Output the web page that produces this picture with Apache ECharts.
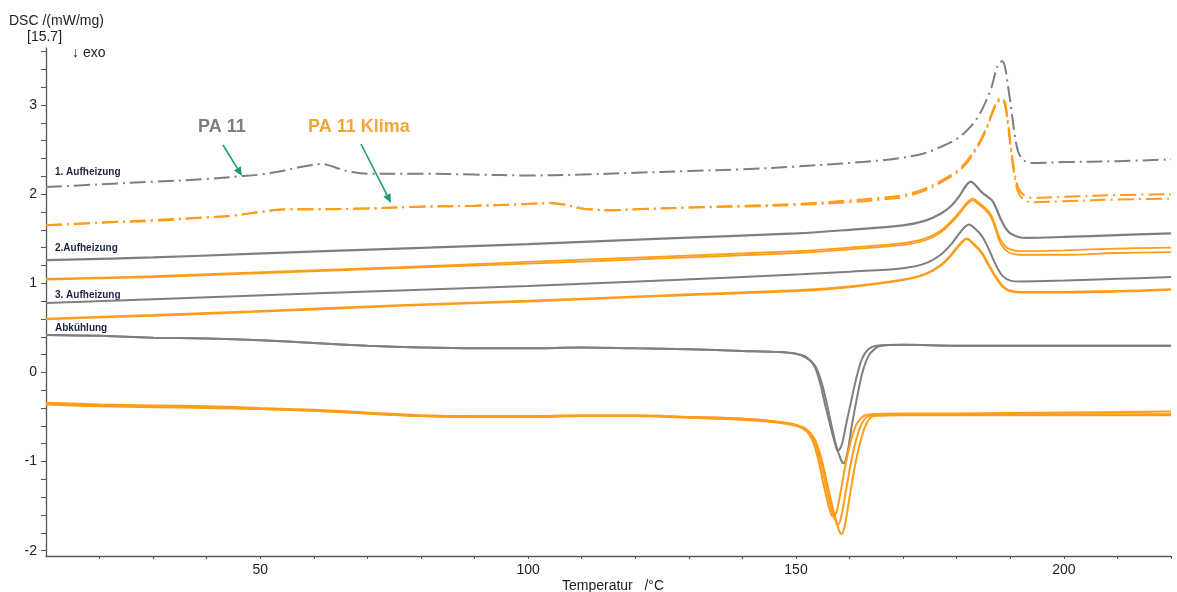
<!DOCTYPE html>
<html><head><meta charset="utf-8">
<script src="https://cdn.jsdelivr.net/npm/echarts@6/dist/echarts.min.js"></script>
<style>html,body{margin:0;padding:0;background:#fff}#c{width:1177px;height:592px}</style>
</head><body><div id="c"></div>
<script>
// ---- data (temperature °C, DSC mW/mg) ----
const xLabels = [50, 100, 150, 200];
const xTicks = [20,30,40,50,60,70,80,90,100,110,120,130,140,150,160,170,180,190,200,210,220];
const yLabels = [-2, -1, 0, 1, 2, 3];
const yTicks = [-2,-1.8,-1.6,-1.4,-1.2,-1,-0.8,-0.6,-0.4,-0.2,0,0.2,0.4,0.6,0.8,1,1.2,1.4,1.6,1.8,2,2.2,2.4,2.6,2.8,3,3.2,3.4,3.6];

// 1. Aufheizung
const pa11_heat1 = [[10,2.08],[20,2.11],[30,2.14],[40,2.17],[46,2.2],[50,2.22],[54,2.26],[57,2.3],[60,2.33],[61.5,2.34],[63,2.32],[65,2.28],[67,2.25],[70,2.23],[80,2.23],[90,2.22],[100,2.21],[110,2.22],[120,2.24],[130,2.26],[140,2.28],[150,2.31],[160,2.35],[166,2.38],[170,2.41],[174,2.46],[177,2.53],[180,2.62],[182,2.72],[184,2.87],[185.5,3.05],[186.5,3.2],[187.3,3.38],[188,3.48],[188.5,3.49],[189,3.43],[189.6,3.2],[190.2,2.95],[190.8,2.68],[191.5,2.47],[192.5,2.38],[194,2.35],[200,2.36],[210,2.37],[220,2.39]];
const klima_heat1a = [[10,1.65],[20,1.68],[30,1.71],[40,1.74],[45,1.76],[50,1.8],[55,1.83],[60,1.83],[70,1.84],[80,1.86],[90,1.87],[100,1.89],[104,1.9],[107,1.88],[110,1.84],[115,1.82],[120,1.83],[130,1.85],[140,1.87],[150,1.89],[160,1.93],[166,1.96],[170,1.99],[174,2.06],[177,2.15],[180,2.26],[182,2.38],[184,2.56],[185.5,2.74],[186.5,2.9],[187.5,3.04],[188.3,3.08],[189,3.03],[189.6,2.8],[190.2,2.5],[190.8,2.25],[191.5,2.07],[192.5,1.99],[194,1.96],[200,1.97],[210,1.99],[220,2.0]];
const klima_heat1b = [[10,1.65],[20,1.68],[30,1.7],[40,1.74],[45,1.76],[50,1.8],[55,1.83],[60,1.83],[70,1.84],[80,1.86],[90,1.87],[100,1.89],[104,1.9],[107,1.88],[110,1.84],[115,1.82],[120,1.83],[130,1.85],[140,1.86],[150,1.88],[160,1.91],[166,1.94],[170,1.97],[174,2.04],[177,2.13],[180,2.24],[182,2.36],[184,2.54],[185.5,2.72],[186.5,2.88],[187.5,3.02],[188.3,3.06],[189,3.0],[189.6,2.76],[190.2,2.45],[190.8,2.2],[191.5,2.02],[192.5,1.94],[194,1.91],[200,1.92],[210,1.94],[220,1.95]];
// 2. Aufheizung
const pa11_heat2 = [[10,1.26],[30,1.29],[48,1.33],[76,1.39],[100,1.44],[125,1.5],[150,1.56],[160,1.6],[170,1.65],[174,1.7],[177,1.78],[179,1.87],[180.5,1.98],[181.8,2.1],[182.6,2.14],[183.5,2.1],[184.7,2.02],[185.8,1.97],[186.6,1.93],[187.3,1.85],[188,1.75],[189,1.63],[190,1.56],[191.5,1.52],[193,1.51],[200,1.52],[210,1.54],[220,1.56]];
const klima_heat2a = [[10,1.05],[30,1.08],[48,1.12],[76,1.18],[100,1.24],[125,1.3],[150,1.36],[160,1.4],[170,1.45],[174,1.5],[177,1.59],[179,1.7],[180.5,1.8],[182,1.91],[183,1.95],[184,1.91],[185.4,1.84],[186.4,1.77],[187.3,1.63],[188,1.51],[189,1.42],[190,1.38],[191.8,1.36],[200,1.37],[210,1.39],[220,1.4]];
const klima_heat2b = [[10,1.04],[30,1.07],[48,1.11],[76,1.17],[100,1.22],[125,1.28],[150,1.34],[160,1.38],[170,1.43],[174,1.48],[177,1.57],[179,1.68],[180.5,1.78],[182,1.89],[183,1.93],[184,1.89],[185.4,1.82],[186.4,1.74],[187.3,1.6],[188,1.47],[189,1.38],[190,1.34],[191.8,1.32],[200,1.32],[210,1.34],[220,1.35]];
// 3. Aufheizung
const pa11_heat3 = [[10,0.78],[30,0.82],[48,0.86],[76,0.92],[100,0.97],[125,1.03],[151,1.1],[160,1.13],[170,1.17],[174,1.22],[177,1.32],[179,1.44],[180.5,1.56],[182.3,1.66],[183.3,1.62],[184.7,1.53],[185.7,1.42],[186.6,1.3],[187.6,1.17],[188.6,1.08],[190,1.03],[192,1.02],[200,1.03],[210,1.05],[220,1.07]];
const klima_heat3 = [[10,0.6],[30,0.64],[48,0.68],[76,0.75],[100,0.8],[125,0.86],[151,0.92],[160,0.96],[170,1.04],[174,1.1],[177,1.2],[179,1.32],[180.5,1.43],[181.9,1.5],[183,1.45],[184.7,1.34],[186,1.2],[187.3,1.07],[188.5,0.97],[189.7,0.92],[192,0.9],[200,0.9],[210,0.91],[220,0.93]];
// Abkühlung
const pa11_cool1 = [[10,0.42],[20,0.41],[30,0.39],[40,0.38],[50,0.36],[60,0.33],[70,0.3],[80,0.28],[90,0.27],[100,0.27],[110,0.28],[120,0.27],[130,0.26],[140,0.24],[146,0.23],[150,0.21],[152,0.17],[153.5,0.06],[154.5,-0.12],[155.5,-0.38],[156.5,-0.62],[157.3,-0.8],[157.8,-0.88],[158.5,-0.82],[159.3,-0.6],[160.2,-0.35],[161.2,-0.08],[162.3,0.15],[163.5,0.26],[165,0.3],[170,0.31],[180,0.3],[200,0.3],[220,0.3]];
const pa11_cool2 = [[10,0.42],[20,0.41],[30,0.39],[40,0.38],[50,0.36],[60,0.33],[70,0.3],[80,0.28],[90,0.27],[100,0.27],[110,0.28],[120,0.27],[130,0.26],[140,0.24],[146,0.23],[150,0.21],[152,0.16],[153.5,0.08],[154.5,-0.06],[155.5,-0.28],[156.5,-0.56],[157.5,-0.82],[158.4,-0.98],[158.9,-1.02],[159.6,-0.9],[160.4,-0.6],[161.4,-0.28],[162.4,0.0],[163.5,0.18],[164.8,0.27],[166,0.3],[170,0.31],[180,0.3],[200,0.3],[220,0.3]];
const klima_cool1 = [[10,-0.34],[20,-0.36],[30,-0.37],[40,-0.38],[50,-0.4],[60,-0.42],[70,-0.45],[80,-0.48],[90,-0.49],[100,-0.49],[110,-0.48],[120,-0.48],[130,-0.5],[140,-0.52],[146,-0.55],[150,-0.59],[152,-0.66],[153.3,-0.8],[154.3,-1.02],[155.3,-1.3],[156.2,-1.52],[156.9,-1.62],[157.5,-1.58],[158.3,-1.35],[159.2,-1.05],[160.2,-0.78],[161.3,-0.58],[162.6,-0.49],[164,-0.47],[170,-0.46],[180,-0.46],[200,-0.45],[220,-0.44]];
const klima_cool2 = [[10,-0.36],[20,-0.38],[30,-0.39],[40,-0.4],[50,-0.41],[60,-0.43],[70,-0.46],[80,-0.49],[90,-0.5],[100,-0.5],[110,-0.49],[120,-0.49],[130,-0.51],[140,-0.53],[146,-0.56],[150,-0.6],[152,-0.66],[153.5,-0.78],[154.6,-1.0],[155.7,-1.3],[156.7,-1.55],[157.5,-1.68],[157.9,-1.7],[158.5,-1.6],[159.4,-1.3],[160.3,-1.0],[161.3,-0.74],[162.5,-0.55],[164,-0.48],[170,-0.47],[200,-0.47],[220,-0.47]];
const klima_cool3 = [[10,-0.35],[20,-0.37],[30,-0.38],[40,-0.39],[50,-0.41],[60,-0.43],[70,-0.46],[80,-0.49],[90,-0.5],[100,-0.5],[110,-0.49],[120,-0.49],[130,-0.5],[140,-0.52],[146,-0.55],[150,-0.59],[152,-0.64],[153.5,-0.75],[154.8,-0.98],[156,-1.3],[157.2,-1.6],[158,-1.77],[158.5,-1.81],[159.1,-1.72],[160,-1.4],[161,-1.05],[162,-0.78],[163.2,-0.57],[164.5,-0.49],[170,-0.48],[200,-0.48],[220,-0.48]];

const curveLabels = ['1. Aufheizung', '2.Aufheizung', '3. Aufheizung', 'Abkühlung'];

// ---- styles ----
const GRAY = '#7f7f7f', ORANGE = '#ff9c1a', TEAL = '#1a9a7a';
const FONT = '"Liberation Sans", Arial, sans-serif';
const dashDot = [16, 5, 2, 5];

function line(name, data, color, width, type) {
  return { name, type: 'line', data, showSymbol: false, symbol: 'none', smooth: 0.35,
    lineStyle: { color, width, type: type || 'solid' }, silent: true };
}

const series = [
  line('PA 11 1', pa11_heat1, GRAY, 2, dashDot),
  line('Klima 1a', klima_heat1a, ORANGE, 2, dashDot),
  line('Klima 1b', klima_heat1b, ORANGE, 2, dashDot),
  line('PA 11 2', pa11_heat2, GRAY, 2.2),
  line('Klima 2a', klima_heat2a, ORANGE, 1.8),
  line('Klima 2b', klima_heat2b, ORANGE, 1.8),
  line('PA 11 3', pa11_heat3, GRAY, 2),
  line('Klima 3', klima_heat3, ORANGE, 2.6),
  line('PA 11 c1', pa11_cool1, GRAY, 2),
  line('PA 11 c2', pa11_cool2, GRAY, 2),
  line('Klima c1', klima_cool1, ORANGE, 2),
  line('Klima c2', klima_cool2, ORANGE, 2),
  line('Klima c3', klima_cool3, ORANGE, 2)
];

function arrow(x1, y1, x2, y2) {
  const dx = x2 - x1, dy = y2 - y1, L = Math.hypot(dx, dy);
  const ux = dx / L, uy = dy / L, hl = 9, hw = 4;
  const bx = x2 - ux * hl, by = y2 - uy * hl;
  return [
    { type: 'line', shape: { x1, y1, x2: bx, y2: by }, style: { stroke: TEAL, lineWidth: 1.6 } },
    { type: 'polygon', shape: { points: [[x2, y2], [bx - uy * hw, by + ux * hw], [bx + uy * hw, by - ux * hw]] }, style: { fill: TEAL } }
  ];
}

const labelYs = [172, 248, 295, 328];
const graphics = [
  { type: 'text', style: { text: 'DSC /(mW/mg)', x: 9, y: 21, font: '14px ' + FONT, fill: '#222', textVerticalAlign: 'middle', verticalAlign: 'middle' } },
  { type: 'text', style: { text: '[15.7]', x: 27, y: 37, font: '14px ' + FONT, fill: '#222', textVerticalAlign: 'middle', verticalAlign: 'middle' } },
  { type: 'text', style: { text: '↓ exo', x: 72, y: 53, font: '14px ' + FONT, fill: '#222', textVerticalAlign: 'middle', verticalAlign: 'middle' } },
  { type: 'text', style: { text: 'Temperatur   /°C', x: 613, y: 586, font: '14px ' + FONT, fill: '#222', textAlign: 'center', align: 'center', textVerticalAlign: 'middle', verticalAlign: 'middle' } },
  { type: 'text', style: { text: 'PA 11', x: 198, y: 127, font: 'bold 18px ' + FONT, fill: '#7f7f7f', textVerticalAlign: 'middle', verticalAlign: 'middle' } },
  { type: 'text', style: { text: 'PA 11 Klima', x: 308, y: 127, font: 'bold 18px ' + FONT, fill: '#f7a538', textVerticalAlign: 'middle', verticalAlign: 'middle' } }
].concat(curveLabels.map((t, i) => ({ type: 'text', style: { text: t, x: 55, y: labelYs[i], font: 'bold 10px ' + FONT, fill: '#1c2340', textVerticalAlign: 'middle', verticalAlign: 'middle' } })))
 .concat(arrow(223, 145, 242, 176))
 .concat(arrow(361, 144, 391, 203));

const chart = echarts.init(document.getElementById('c'), null, { renderer: 'canvas' });
chart.setOption({
  animation: false,
  backgroundColor: '#fff',
  grid: { left: 46, right: 6, top: 48, bottom: 36, containLabel: false },
  xAxis: {
    type: 'value', min: 10, max: 220,
    axisLine: { show: true, onZero: false, lineStyle: { color: '#555', width: 1.3 } },
    axisTick: { show: true, customValues: xTicks, length: 3, lineStyle: { color: '#555' } },
    axisLabel: { customValues: xLabels, fontSize: 14, color: '#222', fontFamily: FONT, margin: 7 },
    splitLine: { show: false }
  },
  yAxis: {
    type: 'value', min: -2.06, max: 3.64,
    axisLine: { show: true, onZero: false, lineStyle: { color: '#555', width: 1.3 } },
    axisTick: { show: true, customValues: yTicks, length: 5, lineStyle: { color: '#555' } },
    axisLabel: { customValues: yLabels, fontSize: 14, color: '#222', fontFamily: FONT, margin: 9 },
    splitLine: { show: false }
  },
  series,
  graphic: graphics
});
</script>
</body></html>
